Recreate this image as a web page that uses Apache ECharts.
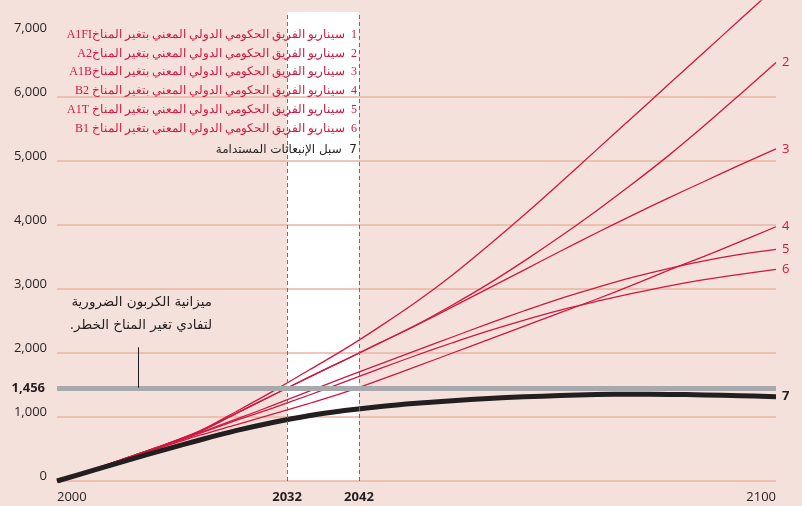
<!DOCTYPE html>
<html>
<head>
<meta charset="utf-8">
<script src="https://cdn.jsdelivr.net/npm/echarts@6/dist/echarts.min.js"></script>
<style>
html, body { margin: 0; padding: 0; background: #f5e1db; }
#main { width: 802px; height: 506px; }
</style>
</head>
<body>
<div id="main"></div>
<script>
// years on x axis
var years = [2000, 2005, 2010, 2015, 2020, 2025, 2030, 2035, 2040, 2045, 2050,
             2055, 2060, 2065, 2070, 2075, 2080, 2085, 2090, 2095, 2100];

// IPCC scenarios (1..6) and sustainable path (7)
var sA1FI = [0, 180, 375, 570, 790, 1090, 1400, 1730, 2060, 2420, 2800, 3220, 3680, 4160, 4660, 5170, 5680, 6190, 6700, 7210, 7720];
var sA2   = [0, 180, 375, 570, 780, 1060, 1340, 1620, 1890, 2165, 2440, 2750, 3080, 3440, 3820, 4220, 4640, 5080, 5550, 6040, 6540];
var sA1B  = [0, 180, 375, 570, 780, 1060, 1340, 1620, 1890, 2160, 2435, 2720, 3010, 3300, 3590, 3875, 4150, 4420, 4680, 4940, 5190];
var sB2   = [0, 175, 365, 540, 720, 880, 1045, 1210, 1385, 1585, 1790, 2000, 2210, 2420, 2630, 2840, 3060, 3290, 3510, 3740, 3973];
var sA1T  = [0, 178, 370, 560, 760, 970, 1180, 1400, 1620, 1830, 2040, 2250, 2460, 2660, 2850, 3020, 3180, 3320, 3440, 3540, 3620];
var sB1   = [0, 178, 368, 555, 750, 950, 1140, 1340, 1550, 1760, 1965, 2160, 2345, 2515, 2670, 2805, 2930, 3045, 3145, 3230, 3307];
var sPath = [0, 165, 330, 490, 645, 790, 915, 1020, 1100, 1165, 1215, 1255, 1290, 1315, 1335, 1350, 1355, 1353, 1345, 1333, 1318];

var budget = 1456;          // carbon budget
var bandYears = [2032, 2042];
var xTicks = [2000, 2032, 2042, 2100];
var yTicks = [0, 1000, 2000, 3000, 4000, 5000, 6000, 7000];

var legendNames = [
  '1  سيناريو الفريق الحكومي الدولي المعني بتغير المناخA1FI',
  '2  سيناريو الفريق الحكومي الدولي المعني بتغير المناخA2',
  '3  سيناريو الفريق الحكومي الدولي المعني بتغير المناخA1B',
  '4  سيناريو الفريق الحكومي الدولي المعني بتغير المناخ B2',
  '5  سيناريو الفريق الحكومي الدولي المعني بتغير المناخ A1T',
  '6  سيناريو الفريق الحكومي الدولي المعني بتغير المناخ B1',
  '7  سبل الإنبعاثات المستدامة'
];
var noteLines = ['ميزانية الكربون الضرورية', 'لتفادي تغير المناخ الخطر.'];

var RED = '#d2173f';
var GRID = '#e9b3a6';
var rtl = function (s) { return '\u202B' + s + '\u202C'; };

function pairs(arr) {
  return years.map(function (y, i) { return [y, arr[i]]; });
}

function redLine(name, arr, num) {
  return {
    name: name,
    type: 'line',
    data: pairs(arr),
    smooth: 0.35,
    showSymbol: false,
    z: 3,
    lineStyle: { color: RED, width: 1.3 },
    endLabel: {
      show: num != null,
      formatter: String(num),
      color: RED,
      fontSize: 13,
      fontFamily: 'Open Sans',
      distance: 6
    }
  };
}

var chart = echarts.init(document.getElementById('main'));

var legendGraphics = legendNames.map(function (t, i) {
  var ys = [35, 53.5, 72, 90.5, 109.5, 128.5, 150];
  return {
    type: 'text',
    x: 357,
    y: ys[i],
    z: 100,
    style: {
      text: rtl(t),
      align: 'right',
      verticalAlign: 'middle',
      fill: i < 6 ? RED : '#231f20',
      font: i < 6 ? '12px "Liberation Serif", serif' : '12px "DejaVu Sans", sans-serif'
    }
  };
});

var noteGraphics = noteLines.map(function (t, i) {
  return {
    type: 'text',
    x: 212,
    y: 302 + i * 23,
    z: 100,
    style: {
      text: rtl(t),
      align: 'right',
      verticalAlign: 'middle',
      fill: '#231f20',
      font: '13.5px "DejaVu Sans", sans-serif'
    }
  };
});

chart.setOption({
  animation: false,
  backgroundColor: '#f5e1db',
  grid: { left: 57, right: 26, top: 1, bottom: 25 },
  xAxis: {
    type: 'value',
    min: 2000,
    max: 2100,
    splitLine: { show: false },
    axisLine: { show: false },
    axisTick: { show: false },
    axisLabel: {
      customValues: xTicks,
      alignMinLabel: 'left',
      alignMaxLabel: 'right',
      margin: 10,
      fontSize: 13,
      fontFamily: 'Open Sans',
      color: '#231f20',
      formatter: function (v) {
        return bandYears.indexOf(v) >= 0 ? '{b|' + v + '}' : String(v);
      },
      rich: { b: { fontWeight: 'bold', fontSize: 13, fontFamily: 'Open Sans', color: '#231f20' } }
    }
  },
  yAxis: {
    type: 'value',
    z: 2,
    min: 0,
    max: 7500,
    interval: 1000,
    axisLine: { show: false },
    axisTick: { show: false },
    axisLabel: {
      customValues: yTicks,
      margin: 10,
      fontSize: 13,
      fontFamily: 'Open Sans',
      color: '#231f20',
      verticalAlign: 'bottom',
      lineHeight: 10,
      formatter: function (v) { return v.toLocaleString('en-US'); }
    },
    splitLine: {
      lineStyle: { color: [GRID, GRID, GRID, GRID, GRID, GRID, GRID, 'transparent', 'transparent'], width: 1.5 }
    }
  },
  series: [
    {
      // white band between 2032 and 2042 with dashed edges
      type: 'line',
      data: [],
      z: 1,
      silent: true,
      markArea: {
        silent: true,
        itemStyle: { color: '#ffffff' },
        data: [[{ coord: [bandYears[0], 0] }, { coord: [bandYears[1], 7330] }]]
      },
      markLine: {
        silent: true,
        symbol: 'none',
        label: { show: false },
        lineStyle: { color: '#6d6e71', type: [4, 3], width: 1 },
        data: bandYears.map(function (y) {
          return [{ coord: [y, 0] }, { coord: [y, 7330] }];
        })
      }
    },
    {
      // carbon budget line + leader to note
      type: 'line',
      data: [],
      z: 3,
      silent: true,
      markLine: {
        silent: true,
        symbol: 'none',
        data: [
          {
            yAxis: budget,
            lineStyle: { color: '#a7a9ac', width: 5, type: 'solid' },
            label: {
              show: true,
              position: 'start',
              distance: 12,
              formatter: '1,456',
              fontWeight: 'bold',
              fontSize: 13,
              fontFamily: 'Open Sans',
              color: '#231f20'
            }
          },
          [
            { coord: [2011.3, budget], lineStyle: { color: '#231f20', width: 1, type: 'solid' }, label: { show: false } },
            { coord: [2011.3, 2090] }
          ]
        ]
      }
    },
    redLine('A1FI', sA1FI, null),
    redLine('A2', sA2, 2),
    redLine('A1B', sA1B, 3),
    redLine('B2', sB2, 4),
    redLine('A1T', sA1T, 5),
    redLine('B1', sB1, 6),
    {
      name: 'path',
      type: 'line',
      data: pairs(sPath),
      smooth: 0.35,
      showSymbol: false,
      z: 4,
      lineStyle: { color: '#231f20', width: 5 },
      endLabel: {
        show: true,
        formatter: '7',
        color: '#231f20',
        fontWeight: 'bold',
        fontSize: 13,
        fontFamily: 'Open Sans',
        distance: 6
      }
    }
  ],
  graphic: legendGraphics.concat(noteGraphics)
});
</script>
</body>
</html>
